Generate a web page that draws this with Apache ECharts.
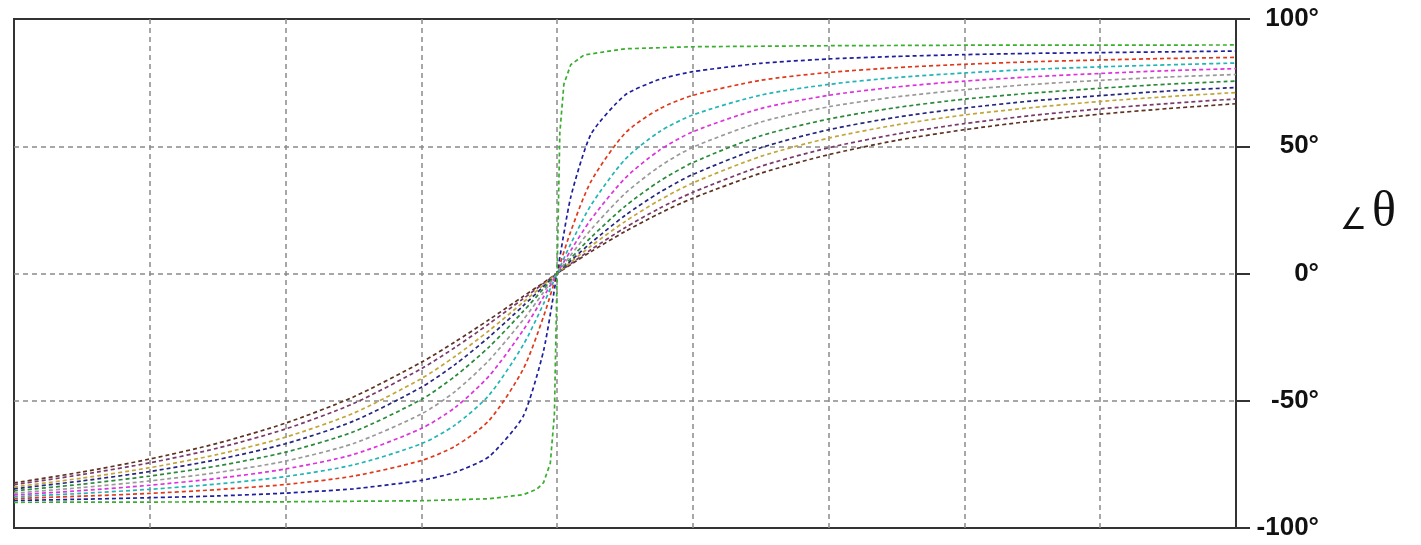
<!DOCTYPE html>
<html>
<head>
<meta charset="utf-8">
<script src="https://cdn.jsdelivr.net/npm/echarts@6/dist/echarts.min.js"></script>
<style>
html,body{margin:0;padding:0;background:#fff;}
#chart{width:1421px;height:545px;}
</style>
</head>
<body>
<div id="chart"></div>
<script>
// x positions (grid divisions, 0..9) shared by most curves
const freqX = [0, 0.5, 1, 1.5, 2, 2.5, 3, 3.25, 3.5, 3.75, 3.9, 4, 4.1, 4.25, 4.5, 4.75, 5, 5.5, 6, 6.5, 7, 7.5, 8, 8.5, 9];
// x positions for the steepest curve
const steepX = [0, 1, 2, 3, 3.5, 3.75, 3.85, 3.9, 3.95, 3.98, 4, 4.02, 4.05, 4.1, 4.2, 4.5, 5, 6, 7, 8, 9];

// phase values (degrees)
const phaseGreen   = [-89.9, -89.8, -89.7, -89.3, -88.5, -86.9, -84.8, -82.2, -74.5, -55.3, 0, 55.2, 74.4, 82.0, 85.9, 88.3, 89.1, 89.5, 89.7, 89.7, 89.8];
const phaseBlue    = [-89.2, -88.7, -88.1, -87.4, -86.3, -84.6, -81.3, -78.1, -71.9, -56.1, -30.4, 0, 29.9, 54.8, 70.1, 76.2, 79.3, 82.6, 84.3, 85.3, 86.0, 86.5, 86.8, 87.1, 87.4];
const phaseRed     = [-88.4, -87.5, -86.4, -84.9, -82.9, -79.6, -73.5, -67.8, -57.7, -37.6, -16.9, 0, 16.5, 36.2, 55.1, 64.6, 70.0, 75.9, 79.0, 80.9, 82.2, 83.2, 83.9, 84.5, 84.9];
const phaseCyan    = [-87.7, -86.4, -84.8, -82.7, -79.8, -75.2, -66.9, -59.5, -47.7, -28.1, -11.9, 0, 11.6, 26.9, 44.8, 55.6, 62.3, 70.1, 74.3, 77.0, 78.8, 80.2, 81.2, 82.0, 82.7];
const phaseMagenta = [-87.0, -85.3, -83.2, -80.5, -76.8, -71.1, -60.9, -52.6, -40.2, -22.3, -9.2, 0, 9.0, 21.3, 37.4, 48.3, 55.7, 64.8, 70.0, 73.3, 75.6, 77.3, 78.6, 79.7, 80.5];
const phaseGray    = [-86.3, -84.1, -81.5, -78.2, -73.7, -66.8, -55.2, -46.3, -34.0, -18.2, -7.4, 0, 7.2, 17.3, 31.4, 41.9, 49.6, 59.5, 65.5, 69.4, 72.2, 74.3, 75.9, 77.2, 78.2];
const phaseGreen2  = [-85.4, -82.8, -79.6, -75.6, -70.2, -62.2, -49.5, -40.3, -28.8, -14.9, -6.0, 0, 5.9, 14.2, 26.4, 36.1, 43.6, 54.1, 60.7, 65.2, 68.5, 70.9, 72.8, 74.4, 75.6];
const phaseBlue2   = [-84.6, -81.5, -77.8, -73.1, -66.9, -58.0, -44.7, -35.7, -24.9, -12.7, -5.1, 0, 5.0, 12.1, 22.8, 31.7, 38.9, 49.4, 56.5, 61.4, 65.0, 67.8, 69.9, 71.7, 73.1];
const phaseOlive   = [-83.9, -80.4, -76.3, -71.1, -64.3, -54.9, -41.3, -32.5, -22.4, -11.3, -4.5, 0, 4.4, 10.8, 20.4, 28.7, 35.6, 46.0, 53.2, 58.4, 62.3, 65.2, 67.6, 69.5, 71.1];
const phasePurple  = [-83.0, -79.0, -74.4, -68.6, -61.1, -51.1, -37.4, -29.0, -19.7, -9.9, -3.9, 0, 3.8, 9.4, 18.0, 25.5, 31.9, 42.1, 49.4, 54.8, 58.9, 62.1, 64.7, 66.8, 68.6];
const phaseBrown   = [-82.3, -78.0, -72.9, -66.7, -58.8, -48.5, -34.9, -26.8, -18.1, -9.0, -3.6, 0, 3.5, 8.6, 16.5, 23.5, 29.6, 39.4, 46.7, 52.3, 56.5, 59.9, 62.6, 64.8, 66.7];

const yTicks = [-100, -50, 0, 50, 100];

const curves = [
  {x: freqX, y: phaseBrown,   color: '#5e3322', smooth: 0.25},
  {x: freqX, y: phasePurple,  color: '#7a3a6a', smooth: 0.25},
  {x: freqX, y: phaseOlive,   color: '#c2a63a', smooth: 0.25},
  {x: freqX, y: phaseBlue2,   color: '#26267e', smooth: 0.25},
  {x: freqX, y: phaseGreen2,  color: '#2a8a3a', smooth: 0.25},
  {x: freqX, y: phaseGray,    color: '#9a9a9a', smooth: 0.25},
  {x: freqX, y: phaseMagenta, color: '#dd33dd', smooth: 0.25},
  {x: freqX, y: phaseCyan,    color: '#22b5b5', smooth: 0.25},
  {x: freqX, y: phaseRed,     color: '#e03a1c', smooth: 0.25},
  {x: freqX, y: phaseBlue,    color: '#1f1f9e', smooth: 0.2},
  {x: steepX, y: phaseGreen,  color: '#3aae2e', smooth: false}
];

const chart = echarts.init(document.getElementById('chart'), null, {renderer: 'canvas'});
chart.setOption({
  animation: false,
  backgroundColor: '#ffffff',
  grid: {
    left: 14, right: 185, top: 19, bottom: 17,
    show: true, borderColor: '#333333', borderWidth: 2, backgroundColor: 'transparent'
  },
  xAxis: {
    type: 'value', min: 0, max: 9, interval: 1,
    axisLine: {show: false}, axisTick: {show: false}, axisLabel: {show: false},
    splitLine: {show: true, showMinLine: false, showMaxLine: false, lineStyle: {color: '#8a8a8a', width: 1.5, type: [5, 4]}}
  },
  yAxis: {
    type: 'value', position: 'right', min: yTicks[0], max: yTicks[yTicks.length - 1], interval: 50,
    axisLine: {show: true, onZero: false, lineStyle: {color: '#333333', width: 2}},
    axisTick: {show: true, inside: false, length: 14, lineStyle: {color: '#333333', width: 2}},
    axisLabel: {
      show: true, margin: 83, align: 'right',
      formatter: v => v + '°',
      fontFamily: 'Liberation Sans, Arial, sans-serif', fontWeight: 'bold', fontSize: 26, color: '#111111'
    },
    splitLine: {show: true, showMinLine: false, showMaxLine: false, lineStyle: {color: '#8a8a8a', width: 1.5, type: [5, 4]}}
  },
  graphic: [
    {type: 'text', left: 1340, top: 206, style: {text: '∠', font: '30px "DejaVu Sans", sans-serif', fill: '#111'}},
    {type: 'text', left: 1372, top: 188, style: {text: 'θ', font: '50px "Liberation Serif", "DejaVu Serif", serif', fill: '#111'}}
  ],
  series: curves.map(c => ({
    type: 'line',
    data: c.x.map((xv, i) => [xv, c.y[i]]),
    showSymbol: false,
    smooth: c.smooth,
    lineStyle: {color: c.color, width: 1.7, type: [4, 3]},
    silent: true
  }))
});
</script>
</body>
</html>
